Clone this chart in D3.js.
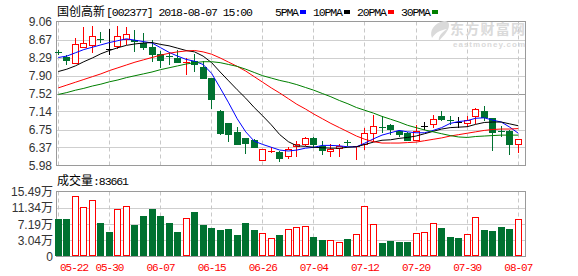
<!DOCTYPE html>
<html>
<head>
<meta charset="utf-8">
<script src="https://cdn.jsdelivr.net/npm/d3@7"></script>
<style>
  body { margin: 0; background: #fff; }
  svg { display: block; }
</style>
</head>
<body>
<div id="chart"></div>
<script>
// 交易日
const dates = ['05-22','05-23','05-24','05-25','05-28','05-29','05-30','05-31','06-01','06-04',
  '06-05','06-06','06-07','06-08','06-11','06-12','06-13','06-14','06-15','06-19',
  '06-20','06-21','06-22','06-25','06-26','06-27','06-28','06-29','07-02','07-03',
  '07-04','07-05','07-06','07-09','07-10','07-11','07-12','07-13','07-16','07-17',
  '07-18','07-19','07-20','07-23','07-24','07-25','07-26','07-27','07-30','07-31',
  '08-01','08-02','08-03','08-06','08-07'];

// K线 (开 高 低 收)
const open = [8.41, 8.30, 8.17, 8.51, 8.57, 8.69, 8.48, 8.53, 8.68, 8.67, 8.61, 8.51, 8.36, 8.33, 8.29, 8.19, 8.22, 8.09, 7.85, 7.14,
  6.88, 6.69, 6.57, 6.53, 6.09, 6.29, 6.27, 6.19, 6.40, 6.45, 6.56, 6.40, 6.30, 6.34, 6.49, 6.37, 6.45, 6.67, 6.81, 6.84,
  6.71, 6.68, 6.51, 6.82, 6.87, 7.03, 6.96, 6.90, 6.90, 7.03, 7.14, 7.00, 6.72, 6.71, 6.44];
const high = [8.46, 8.35, 8.71, 8.94, 8.96, 8.83, 8.90, 8.96, 8.94, 8.87, 8.81, 8.66, 8.42, 8.39, 8.44, 8.29, 8.36, 8.21, 7.85, 7.17,
  6.88, 6.80, 6.57, 6.55, 6.33, 6.37, 6.30, 6.37, 6.51, 6.60, 6.58, 6.51, 6.44, 6.44, 6.53, 6.39, 6.78, 7.05, 7.03, 6.87,
  6.74, 6.69, 6.84, 6.90, 7.07, 7.14, 7.03, 7.01, 7.03, 7.22, 7.25, 7.00, 6.82, 6.74, 6.55];
const low = [8.34, 8.14, 8.17, 8.51, 8.39, 8.59, 8.34, 8.47, 8.56, 8.41, 8.44, 8.19, 8.07, 8.14, 8.17, 7.92, 7.99, 7.84, 7.19, 6.63,
  6.48, 6.42, 6.23, 6.35, 6.09, 6.25, 6.05, 6.12, 6.16, 6.40, 6.35, 6.20, 6.16, 6.16, 6.39, 6.10, 6.32, 6.48, 6.68, 6.63,
  6.60, 6.50, 6.50, 6.73, 6.78, 6.94, 6.85, 6.78, 6.81, 6.87, 6.94, 6.28, 6.60, 6.20, 6.24];
const close = [8.40, 8.22, 8.57, 8.60, 8.76, 8.66, 8.48, 8.74, 8.79, 8.62, 8.51, 8.34, 8.22, 8.32, 8.19, 8.20, 8.14, 7.84, 7.37, 6.64,
  6.63, 6.42, 6.44, 6.35, 6.33, 6.30, 6.12, 6.34, 6.44, 6.57, 6.40, 6.30, 6.34, 6.39, 6.48, 6.39, 6.68, 6.82, 6.80, 6.73,
  6.63, 6.51, 6.71, 6.82, 6.97, 6.94, 6.95, 6.90, 6.96, 7.19, 7.00, 6.68, 6.71, 6.40, 6.55];

// 成交量 (万)
const volume = [8.48, 8.48, 14.43, 11.50, 13.40, 7.50, 5.18, 10.99, 11.84, 7.00, 9.33, 11.06, 9.33, 7.50, 5.18, 8.65, 10.29, 7.00, 6.22, 5.62,
  5.88, 4.33, 7.50, 5.62, 4.77, 3.73, 4.33, 5.80, 6.32, 6.66, 3.79, 3.02, 3.20, 2.68, 3.28, 4.57, 11.79, 7.15, 2.32, 2.76,
  2.58, 2.58, 4.90, 5.08, 7.33, 6.11, 3.79, 3.53, 4.75, 8.87, 5.60, 5.34, 6.37, 5.86, 8.37];

// 均线
const ma5 = [8.29, 8.32, 8.39, 8.46, 8.51, 8.56, 8.61, 8.65, 8.69, 8.66, 8.63, 8.60, 8.50, 8.40, 8.32, 8.25, 8.21, 8.14, 7.95, 7.64,
  7.32, 6.98, 6.70, 6.50, 6.43, 6.37, 6.31, 6.29, 6.31, 6.35, 6.37, 6.41, 6.41, 6.40, 6.38, 6.38, 6.46, 6.55, 6.63, 6.68,
  6.73, 6.70, 6.68, 6.68, 6.73, 6.79, 6.88, 6.92, 6.94, 6.99, 7.00, 6.95, 6.91, 6.80, 6.67];
const ma10 = [7.99, 8.04, 8.11, 8.20, 8.28, 8.37, 8.44, 8.50, 8.55, 8.58, 8.60, 8.61, 8.57, 8.54, 8.49, 8.44, 8.41, 8.32, 8.18, 7.98,
  7.79, 7.60, 7.42, 7.22, 7.04, 6.85, 6.64, 6.49, 6.40, 6.39, 6.37, 6.36, 6.35, 6.35, 6.37, 6.38, 6.43, 6.48, 6.52, 6.53,
  6.56, 6.58, 6.61, 6.66, 6.71, 6.76, 6.79, 6.80, 6.81, 6.86, 6.90, 6.91, 6.91, 6.87, 6.83];
const ma20 = [7.64, 7.70, 7.76, 7.82, 7.88, 7.94, 8.01, 8.07, 8.13, 8.19, 8.24, 8.29, 8.34, 8.38, 8.41, 8.43, 8.44, 8.41, 8.36, 8.28,
  8.19, 8.10, 8.00, 7.88, 7.76, 7.64, 7.53, 7.41, 7.29, 7.19, 7.08, 6.98, 6.88, 6.79, 6.70, 6.61, 6.54, 6.49, 6.46, 6.46,
  6.46, 6.47, 6.48, 6.51, 6.54, 6.57, 6.61, 6.64, 6.67, 6.70, 6.73, 6.75, 6.76, 6.76, 6.77];
const ma30 = [7.50, 7.54, 7.59, 7.63, 7.68, 7.72, 7.77, 7.81, 7.86, 7.90, 7.94, 7.98, 8.03, 8.07, 8.11, 8.15, 8.18, 8.20, 8.20, 8.18,
  8.14, 8.10, 8.04, 7.97, 7.90, 7.85, 7.80, 7.76, 7.71, 7.65, 7.59, 7.52, 7.45, 7.37, 7.30, 7.22, 7.16, 7.10, 7.03, 6.97,
  6.91, 6.84, 6.79, 6.74, 6.70, 6.66, 6.62, 6.59, 6.58, 6.60, 6.61, 6.62, 6.63, 6.63, 6.63];

// 刻度
const priceTicks = ['9.06', '8.67', '8.29', '7.90', '7.52', '7.14', '6.75', '6.37', '5.98'];
const volTicks = ['15.49', '11.34', '7.19', '3.04'];
const dateTicks = ['05-22', '05-30', '06-07', '06-15', '06-26', '07-04', '07-12', '07-20', '07-30', '08-07'];

const maNames = ['5PMA', '10PMA', '20PMA', '30PMA'];
const maColors = ['#0000ff', '#000000', '#ff0000', '#008000'];
const maSeries = [ma5, ma10, ma20, ma30];

const RED = '#ff0000';
const GREEN = '#007130';
const CJK = "'Noto Sans CJK SC', sans-serif";
const MONO = "'Liberation Mono', monospace";
const SANS = "'Liberation Sans', 'Noto Sans CJK SC', sans-serif";

const W = 578, H = 276;
const left = 56.5, right = 525.5;
const pTop = 21.5, pBottom = 165.5;
const vTop = 191.5, vBottom = 256.5;

const svg = d3.select('#chart').append('svg')
    .attr('width', W)
    .attr('height', H);

const x = d3.scalePoint().domain(dates).range([58.3, 518.3]);
const y = d3.scaleLinear().domain([5.98, 9.06]).range([pBottom, pTop]);
// 成交量轴: 四等分, 最下一格标为 0
const vStep = 15.49 - 11.34;
const yv = d3.scaleLinear().domain([15.49 - 4 * vStep, 15.49]).range([vBottom, vTop]);

const cx = d => Math.floor(x(d)) + 0.5;

// 横向网格
priceTicks.forEach((t, i) => {
    if (i === 0 || i === priceTicks.length - 1) return;
    const yy = Math.round(y(+t)) + 0.5;
    svg.append('line')
        .attr('x1', left).attr('x2', right)
        .attr('y1', yy).attr('y2', yy)
        .attr('stroke', t === '7.52' ? '#9a9a9a' : '#cfcfcf');
});
volTicks.slice(1).forEach(t => {
    const yy = Math.round(yv(+t)) + 0.5;
    svg.append('line')
        .attr('x1', left).attr('x2', right)
        .attr('y1', yy).attr('y2', yy)
        .attr('stroke', '#cfcfcf');
});

// 纵向虚线
dateTicks.forEach(d => {
    [[pTop, pBottom], [vTop, vBottom]].forEach(([a, b]) => {
        svg.append('line')
            .attr('x1', cx(d)).attr('x2', cx(d))
            .attr('y1', a).attr('y2', b)
            .attr('stroke', '#c8c8c8')
            .attr('stroke-dasharray', '4,3');
    });
});

// 边框
[[pTop, pBottom], [vTop, vBottom]].forEach(([a, b]) => {
    svg.append('rect')
        .attr('x', left).attr('y', a)
        .attr('width', right - left).attr('height', b - a)
        .attr('fill', 'none')
        .attr('stroke', '#9a9a9a');
});

// 水印
const wm = svg.append('g').attr('fill', '#dadada');
wm.append('path')
    .attr('d', 'M444,21 C434,23 429,31 432,38 C435,33 440,30 447,29 C441,33 438,37 439,41 C444,35 449,31 449,25 C449,22 447,21 444,21 Z');
wm.append('text')
    .attr('x', 450).attr('y', 33.5)
    .attr('textLength', 75)
    .style('font-family', CJK)
    .style('font-size', '14px')
    .style('font-weight', '700')
    .text('东方财富网');
wm.append('text')
    .attr('x', 453).attr('y', 46.5)
    .attr('textLength', 72)
    .style('font-family', "'Liberation Sans', sans-serif")
    .style('font-size', '8px')
    .style('font-weight', '700')
    .text('eastmoney.com');

// 颜色规则
function candleColor(i) {
    if (close[i] > open[i]) return RED;
    if (close[i] < open[i]) return GREEN;
    return '#000000';
}
function volColor(i) {
    if (close[i] > open[i]) return RED;
    if (close[i] < open[i]) return GREEN;
    return (i > 0 && close[i] >= close[i - 1]) ? RED : GREEN;
}

// K线
const candles = svg.append('g').attr('shape-rendering', 'crispEdges');
dates.forEach((d, i) => {
    const c = candleColor(i);
    const xc = cx(d);
    candles.append('line')
        .attr('x1', xc).attr('x2', xc)
        .attr('y1', y(high[i])).attr('y2', y(low[i]))
        .attr('stroke', c);
    const yTop = y(Math.max(open[i], close[i]));
    const yBot = y(Math.min(open[i], close[i]));
    if (yBot - yTop < 1.5) {
        candles.append('line')
            .attr('x1', xc - 3.5).attr('x2', xc + 3.5)
            .attr('y1', Math.round(yTop) + 0.5).attr('y2', Math.round(yTop) + 0.5)
            .attr('stroke', c);
    } else if (c === RED) {
        candles.append('rect')
            .attr('x', xc - 3).attr('y', Math.round(yTop) + 0.5)
            .attr('width', 6).attr('height', Math.round(yBot - yTop))
            .attr('fill', '#fff').attr('stroke', RED);
    } else {
        candles.append('rect')
            .attr('x', xc - 3.5).attr('y', Math.round(yTop))
            .attr('width', 7).attr('height', Math.round(yBot - yTop))
            .attr('fill', c);
    }
});

// 均线
maSeries.forEach((s, k) => {
    svg.append('path')
        .datum(s)
        .attr('fill', 'none')
        .attr('stroke', maColors[k])
        .attr('stroke-width', 1)
        .attr('d', d3.line().x((v, i) => x(dates[i])).y(v => y(v)));
});

// 成交量柱
const bars = svg.append('g').attr('shape-rendering', 'crispEdges');
dates.forEach((d, i) => {
    const c = volColor(i);
    const xc = cx(d);
    const top = Math.round(yv(volume[i]));
    if (c === RED) {
        bars.append('rect')
            .attr('x', xc - 3).attr('y', top + 0.5)
            .attr('width', 6).attr('height', vBottom - 1 - top - 0.5)
            .attr('fill', '#fff').attr('stroke', RED);
    } else {
        bars.append('rect')
            .attr('x', xc - 3.5).attr('y', top)
            .attr('width', 7).attr('height', vBottom - 0.5 - top)
            .attr('fill', GREEN);
    }
});

// 价格轴标签
svg.selectAll('.p-label')
    .data(priceTicks)
    .enter()
    .append('text')
    .attr('class', 'p-label')
    .attr('x', 52)
    .attr('y', t => y(+t) + 4.5)
    .attr('text-anchor', 'end')
    .style('font-family', SANS)
    .style('font-size', '12px')
    .style('fill', '#333')
    .text(t => t);

// 成交量轴标签
svg.selectAll('.v-label')
    .data(volTicks.concat(['0']))
    .enter()
    .append('text')
    .attr('class', 'v-label')
    .attr('x', 53)
    .attr('y', (t, i) => (i < volTicks.length ? yv(+t) : vBottom) + 4.5)
    .attr('text-anchor', 'end')
    .style('font-family', SANS)
    .style('font-size', '12px')
    .style('fill', '#333')
    .text((t, i) => i < volTicks.length ? t + '万' : t);

// 日期标签
svg.selectAll('.d-label')
    .data(dateTicks)
    .enter()
    .append('text')
    .attr('class', 'd-label')
    .attr('x', (d, i) => i === 0 ? 60 : x(d) + 0.5)
    .attr('y', 271)
    .attr('text-anchor', (d, i) => i === 0 ? 'start' : 'middle')
    .attr('textLength', 29)
    .style('font-family', MONO)
    .style('font-size', '11px')
    .style('fill', RED)
    .text(d => d);

// 标题
svg.append('text')
    .attr('x', 57).attr('y', 16)
    .style('font-family', CJK)
    .style('font-size', '12px')
    .style('fill', '#000')
    .text('国创高新');
svg.append('text')
    .attr('x', 106).attr('y', 16)
    .attr('textLength', 147)
    .style('font-family', MONO)
    .style('font-size', '11.5px')
    .style('fill', '#000')
    .text('[002377] 2018-08-07 15:00');

// 图例
let lx = 275;
maNames.forEach((n, k) => {
    const w = n.length * 6;
    svg.append('text')
        .attr('x', lx).attr('y', 16)
        .attr('textLength', w)
        .style('font-family', MONO)
        .style('font-size', '11.5px')
        .style('fill', '#000')
        .text(n);
    svg.append('rect')
        .attr('x', lx + w + 1).attr('y', 10)
        .attr('width', 6).attr('height', 4)
        .attr('fill', maColors[k]);
    lx += w + 14;
});

// 成交量标题
svg.append('text')
    .attr('x', 57).attr('y', 185)
    .style('font-family', CJK)
    .style('font-size', '12px')
    .style('fill', '#000')
    .text('成交量');
svg.append('text')
    .attr('x', 93).attr('y', 185)
    .attr('textLength', 36)
    .style('font-family', MONO)
    .style('font-size', '11.5px')
    .style('fill', '#000')
    .text(':83661');
</script>
</body>
</html>
